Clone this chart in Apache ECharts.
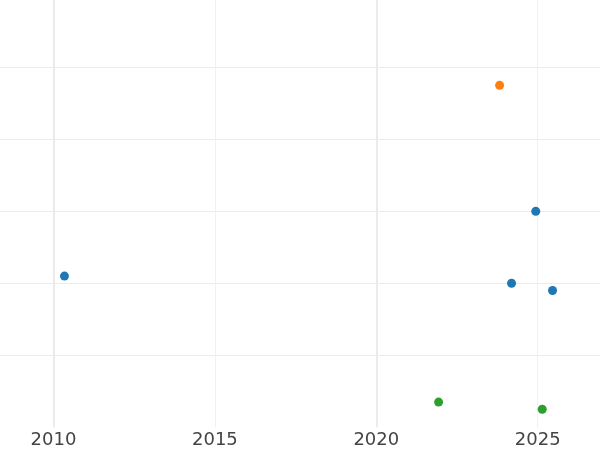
<!DOCTYPE html>
<html><head><meta charset="utf-8">
<script src="https://cdn.jsdelivr.net/npm/echarts@6/dist/echarts.min.js"></script>
<style>html,body{margin:0;padding:0;background:#fff}#c{width:600px;height:450px}</style>
</head><body><div id="c"></div>
<script>
var blueX = [2010.34, 2024.94, 2024.19, 2025.46];
var blueY = [2.10, 3.00, 2.00, 1.90];
var orangeX = [2023.82];
var orangeY = [4.75];
var greenX = [2021.93, 2025.14];
var greenY = [0.35, 0.25];
var xTicks = [2010, 2015, 2020, 2025];
var majorTicks = [2010, 2020];

function pts(xs, ys){ return xs.map(function(x,i){return [x, ys[i]];}); }

var pxPerYear = 32.28;
var xMin = 2005, xMax = 2030;
var visMin = 2008.343, visMax = 2026.93;
var chart = echarts.init(document.getElementById('c'), null, {renderer:'canvas'});
chart.setOption({
  animation:false,
  backgroundColor:'#fff',
  grid:{left:-(visMin-xMin)*pxPerYear, right:-(xMax-visMax)*pxPerYear, top:0, bottom:22.7, containLabel:false, outerBoundsMode:'none'},
  xAxis:{
    type:'value', min:xMin, max:xMax, interval:5,
    axisLine:{show:false}, axisTick:{show:false},
    axisLabel:{show:true, color:'#444', fontSize:18, fontFamily:'DejaVu Sans', margin:4,
      formatter:function(v){ return xTicks.indexOf(Math.round(v))>=0 ? String(Math.round(v)) : ''; }},
    splitLine:{show:true, lineStyle:{color:'#f0f0f0', width:1}}
  },
  yAxis:{
    type:'value', min:0, max:5.935, interval:1,
    axisLine:{show:false}, axisTick:{show:false}, axisLabel:{show:false},
    splitLine:{show:true, showMinLine:false, showMaxLine:false, lineStyle:{color:'#ebebeb', width:1}}
  },
  series:[
    {type:'scatter', data:pts(blueX, blueY), symbolSize:9, itemStyle:{color:'#1f77b4', opacity:1},
      markLine:{silent:true, symbol:'none', label:{show:false}, lineStyle:{color:'#ebebeb', width:2, type:'solid'},
        data: majorTicks.map(function(t){return {xAxis:t};})}},
    {type:'scatter', data:pts(orangeX, orangeY), symbolSize:9, itemStyle:{color:'#ff7f0e', opacity:1}},
    {type:'scatter', data:pts(greenX, greenY), symbolSize:9, itemStyle:{color:'#2ca02c', opacity:1}}
  ]
});
</script></body></html>
